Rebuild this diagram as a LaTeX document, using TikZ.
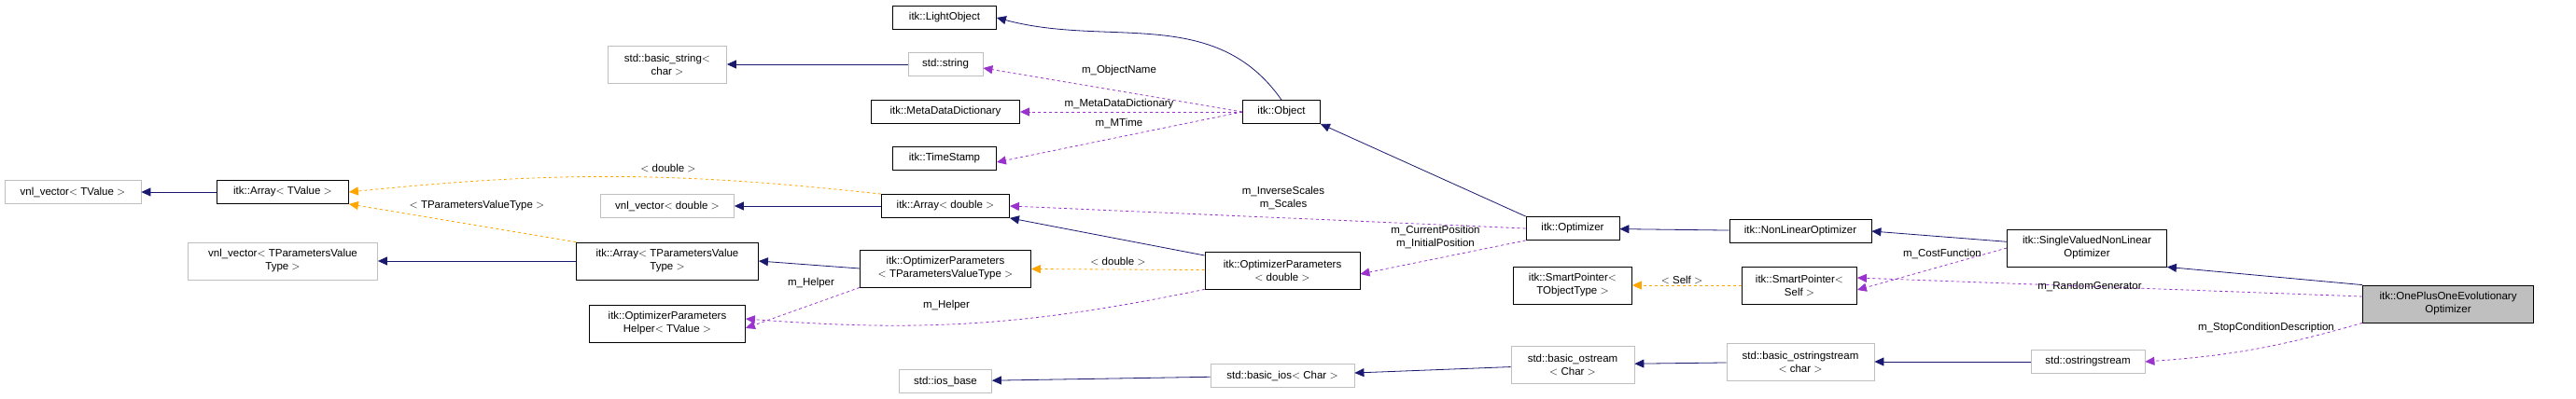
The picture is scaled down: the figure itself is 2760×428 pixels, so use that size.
\documentclass[tikz,border=0pt]{standalone}
\usepackage{fontspec}
\setmainfont{Liberation Sans}
\usetikzlibrary{positioning,arrows.meta}
\definecolor{inhcol}{HTML}{191970}
\definecolor{usecol}{HTML}{9A32CD}
\definecolor{tplcol}{HTML}{FFA500}
\definecolor{grycol}{HTML}{BFBFBF}
\tikzset{
  cls/.style={draw=black,thick,fill=white,align=center,inner sep=2pt,
    font=\fontsize{11.5}{14}\selectfont},
  ext/.style={cls,draw=grycol},
  lbl/.style={font=\fontsize{11.5}{14}\selectfont,align=center,inner sep=0pt},
  tip/.style={-{Triangle[length=10pt,width=9pt]}}
}
\begin{document}
\begin{tikzpicture}[x=1pt,y=-1pt]
        \useasboundingbox (0,0) rectangle (2760,428);
        \begin{scope}[every node/.style={cls}]
            \node[ext,minimum width=146,minimum height=25] (vnlT) at (78,206) {vnl\_vector$<$ TValue $>$};
            \node[minimum width=141,minimum height=25] (arrT) at (303,206) {itk::Array$<$ TValue $>$};
            \node[ext,minimum width=127,minimum height=40] (bstr) at (715,69) {std::basic\_string$<$\\char $>$};
            \node[ext,minimum width=143,minimum height=25] (vnlD) at (715,221) {vnl\_vector$<$ double $>$};
            \node[ext,minimum width=203,minimum height=40] (vnlP) at (303,280) {vnl\_vector$<$ TParametersValue\\Type $>$};
            \node[minimum width=195,minimum height=40] (arrP) at (715,280) {itk::Array$<$ TParametersValue\\Type $>$};
            \node[minimum width=167,minimum height=40] (help) at (715,347) {itk::OptimizerParameters\\Helper$<$ TValue $>$};
            \node[minimum width=111,minimum height=25] (lobj) at (1012,19) {itk::LightObject};
            \node[ext,minimum width=80,minimum height=25] (str) at (1013,69) {std::string};
            \node[minimum width=159,minimum height=25] (mdd) at (1013,120) {itk::MetaDataDictionary};
            \node[minimum width=111,minimum height=25] (tst) at (1012,170) {itk::TimeStamp};
            \node[minimum width=137,minimum height=25] (arrD) at (1013,221) {itk::Array$<$ double $>$};
            \node[minimum width=183,minimum height=40] (opP) at (1013,288) {itk::OptimizerParameters\\$<$ TParametersValueType $>$};
            \node[ext,minimum width=99,minimum height=25] (iob) at (1013,409) {std::ios\_base};
            \node[minimum width=83,minimum height=25] (obj) at (1373,120) {itk::Object};
            \node[minimum width=166,minimum height=40] (opD) at (1374,290) {itk::OptimizerParameters\\$<$ double $>$};
            \node[ext,minimum width=154,minimum height=25] (bios) at (1374,403) {std::basic\_ios$<$ Char $>$};
            \node[minimum width=100,minimum height=25] (opt) at (1685,245) {itk::Optimizer};
            \node[minimum width=127,minimum height=40] (spT) at (1685,306) {itk::SmartPointer$<$\\TObjectType $>$};
            \node[ext,minimum width=132,minimum height=40] (bost) at (1685,391) {std::basic\_ostream\\$<$ Char $>$};
            \node[minimum width=152,minimum height=25] (nlo) at (1929,248) {itk::NonLinearOptimizer};
            \node[minimum width=123,minimum height=40] (spS) at (1928,306) {itk::SmartPointer$<$\\Self $>$};
            \node[ext,minimum width=158,minimum height=40] (bosst) at (1929,388) {std::basic\_ostringstream\\$<$ char $>$};
            \node[minimum width=171,minimum height=40] (svnlo) at (2236,266) {itk::SingleValuedNonLinear\\Optimizer};
            \node[ext,minimum width=122,minimum height=25] (osst) at (2237,388) {std::ostringstream};
            \node[fill=grycol,minimum width=183,minimum height=40] (opo) at (2623,326) {itk::OnePlusOneEvolutionary\\Optimizer};
        \end{scope}
        \begin{scope}[every edge/.style={thick,draw=inhcol,tip}]
            \path (arrT) edge (vnlT);
            \path (str) edge (bstr);
            \path (obj.north) edge[out=125,in=-15] (lobj.east);
            \path (arrD) edge (vnlD);
            \path (arrP) edge (vnlP);
            \path (opP.west) edge (arrP.east);
            \path (opD) edge (arrD.south east);
            \path (opt.north west) edge (obj.south east);
            \path (nlo) edge (opt);
            \path (svnlo) edge (nlo.east);
            \path (opo.north west) edge (svnlo.south east);
            \path (bios) edge (iob);
            \path (bost) edge (bios);
            \path (bosst) edge (bost);
            \path (osst) edge (bosst);
        \end{scope}
        \begin{scope}[every edge/.style={thick,dashed,draw=tplcol,tip}]
            \path (arrD.north west) edge[bend right=6] (arrT.east);
            \path (arrP.north west) edge (arrT.south east);
            \path (opD) edge (opP);
            \path (spS) edge (spT);
        \end{scope}
        \begin{scope}[every edge/.style={thick,dashed,draw=usecol,tip}]
            \path (obj.west) edge ([yshift=-4]str.east);
            \path (obj) edge (mdd);
            \path (obj.west) edge ([yshift=-4]tst.east);
            \path (opt.west) edge (arrD.east);
            \path (opt.south west) edge ([yshift=-4]opD.east);
            \path (opP.south west) edge ([yshift=-5]help.east);
            \path (opD.south west) edge[bend left=8] ([yshift=5]help.east);
            \path (svnlo.west) edge ([yshift=-5]spS.east);
            \path ([yshift=8]opo.west) edge ([yshift=8]spS.east);
            \path (opo.south west) edge[bend left=6] (osst.east);
        \end{scope}
        \begin{scope}[every node/.style={lbl}]
            \node (lDbl) at (716,180) {$<$ double $>$};
            \node (lTPV) at (511,221) {$<$ TParametersValueType $>$};
            \node (lHlp1) at (869,304) {m\_Helper};
            \node (lHlp2) at (1014,328) {m\_Helper};
            \node (lObjN) at (1199,76) {m\_ObjectName};
            \node (lMDD) at (1199,112) {m\_MetaDataDictionary};
            \node (lMT) at (1199,132) {m\_MTime};
            \node (lScl) at (1375,212) {m\_InverseScales\\m\_Scales};
            \node (lPos) at (1538,254) {m\_CurrentPosition\\m\_InitialPosition};
            \node (lDbl2) at (1198,280) {$<$ double $>$};
            \node (lSelf) at (1802,300) {$<$ Self $>$};
            \node (lCost) at (2081,272) {m\_CostFunction};
            \node (lRnd) at (2239,307) {m\_RandomGenerator};
            \node (lStop) at (2428,352) {m\_StopConditionDescription};
        \end{scope}
\end{tikzpicture}
\end{document}
